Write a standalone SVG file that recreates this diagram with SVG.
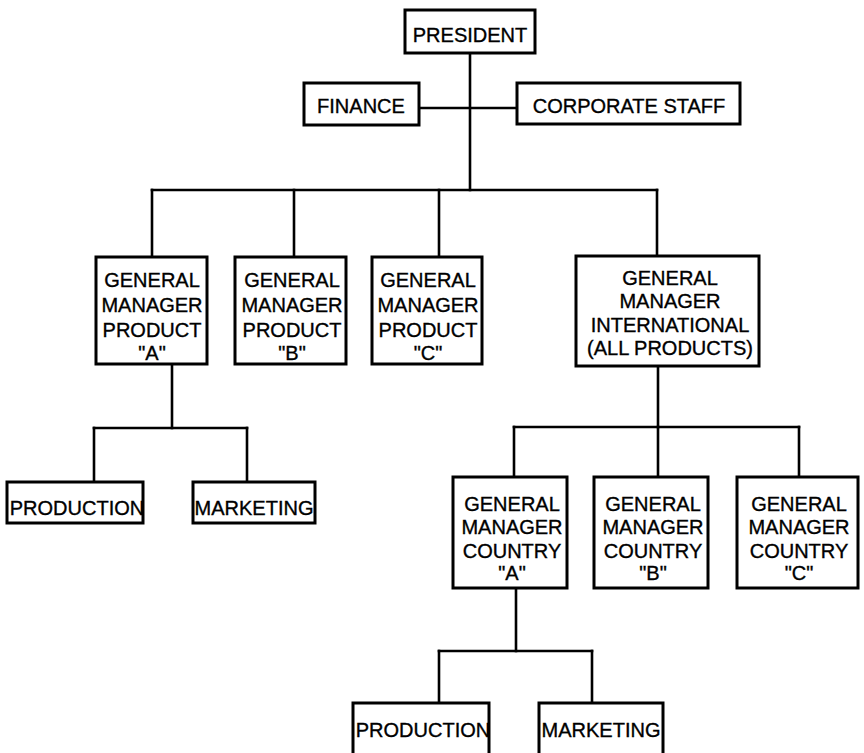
<svg xmlns="http://www.w3.org/2000/svg" width="864" height="753" viewBox="0 0 864 753">
<style>
rect{fill:#fff;stroke:#000;stroke-width:3}
.c line{stroke:#000;stroke-width:2.6;stroke-linecap:square}
text{font-family:"Liberation Sans",Arial,Helvetica,sans-serif;font-size:20px;fill:#000;stroke:#000;stroke-width:0.35;text-anchor:middle}
</style>
<rect x="0" y="0" width="864" height="753" style="stroke:none"/>
<g class="c" id="connectors">
<line x1="470" y1="53" x2="470" y2="190"/>
<line x1="419" y1="108" x2="517" y2="108"/>
<line x1="152" y1="190" x2="657" y2="190"/>
<line x1="152" y1="190" x2="152" y2="257"/>
<line x1="294" y1="190" x2="294" y2="257"/>
<line x1="439" y1="190" x2="439" y2="257"/>
<line x1="657" y1="190" x2="657" y2="256"/>
<line x1="172" y1="364" x2="172" y2="428"/>
<line x1="94" y1="428" x2="247" y2="428"/>
<line x1="94" y1="428" x2="94" y2="482"/>
<line x1="247" y1="428" x2="247" y2="482"/>
<line x1="658" y1="366" x2="658" y2="427"/>
<line x1="514" y1="427" x2="799" y2="427"/>
<line x1="514" y1="427" x2="514" y2="477"/>
<line x1="658" y1="427" x2="658" y2="477"/>
<line x1="799" y1="427" x2="799" y2="477"/>
<line x1="516" y1="588" x2="516" y2="651"/>
<line x1="439" y1="651" x2="592" y2="651"/>
<line x1="439" y1="651" x2="439" y2="703"/>
<line x1="592" y1="651" x2="592" y2="703"/>
</g>
<g id="president"><rect x="405" y="10" width="130" height="43"/><text x="470" y="42">PRESIDENT</text></g>
<g id="finance"><rect x="304" y="83" width="115" height="42"/><text x="361" y="113">FINANCE</text></g>
<g id="corporate-staff"><rect x="517" y="83" width="223" height="41"/><text x="629" y="113">CORPORATE STAFF</text></g>
<g id="gm-product-a"><rect x="96" y="257" width="111" height="107"/>
<text x="152" y="287">GENERAL</text><text x="152" y="312">MANAGER</text><text x="152" y="337">PRODUCT</text><text x="152" y="360">"A"</text></g>
<g id="gm-product-b"><rect x="235" y="257" width="111" height="107"/>
<text x="292" y="287">GENERAL</text><text x="292" y="312">MANAGER</text><text x="292" y="337">PRODUCT</text><text x="292" y="360">"B"</text></g>
<g id="gm-product-c"><rect x="372" y="257" width="110" height="107"/>
<text x="428" y="287">GENERAL</text><text x="428" y="312">MANAGER</text><text x="428" y="337">PRODUCT</text><text x="428" y="360">"C"</text></g>
<g id="gm-international"><rect x="576" y="256" width="183" height="110"/>
<text x="670" y="285">GENERAL</text><text x="670" y="308">MANAGER</text><text x="670" y="332">INTERNATIONAL</text><text x="670" y="355">(ALL PRODUCTS)</text></g>
<g id="production-a"><rect x="7" y="482" width="136" height="41"/><text x="77" y="515">PRODUCTION</text></g>
<g id="marketing-a"><rect x="193" y="482" width="122" height="41"/><text x="254" y="515">MARKETING</text></g>
<g id="gm-country-a"><rect x="453" y="477" width="114" height="111"/>
<text x="512" y="511">GENERAL</text><text x="512" y="534">MANAGER</text><text x="512" y="558">COUNTRY</text><text x="512" y="580">"A"</text></g>
<g id="gm-country-b"><rect x="594" y="477" width="114" height="111"/>
<text x="653" y="511">GENERAL</text><text x="653" y="534">MANAGER</text><text x="653" y="558">COUNTRY</text><text x="653" y="580">"B"</text></g>
<g id="gm-country-c"><rect x="737" y="477" width="121" height="111"/>
<text x="799" y="511">GENERAL</text><text x="799" y="534">MANAGER</text><text x="799" y="558">COUNTRY</text><text x="799" y="580">"C"</text></g>
<g id="production-country"><rect x="353" y="703" width="136" height="60"/><text x="423" y="737">PRODUCTION</text></g>
<g id="marketing-country"><rect x="539" y="703" width="124" height="60"/><text x="601" y="737">MARKETING</text></g>
</svg>
